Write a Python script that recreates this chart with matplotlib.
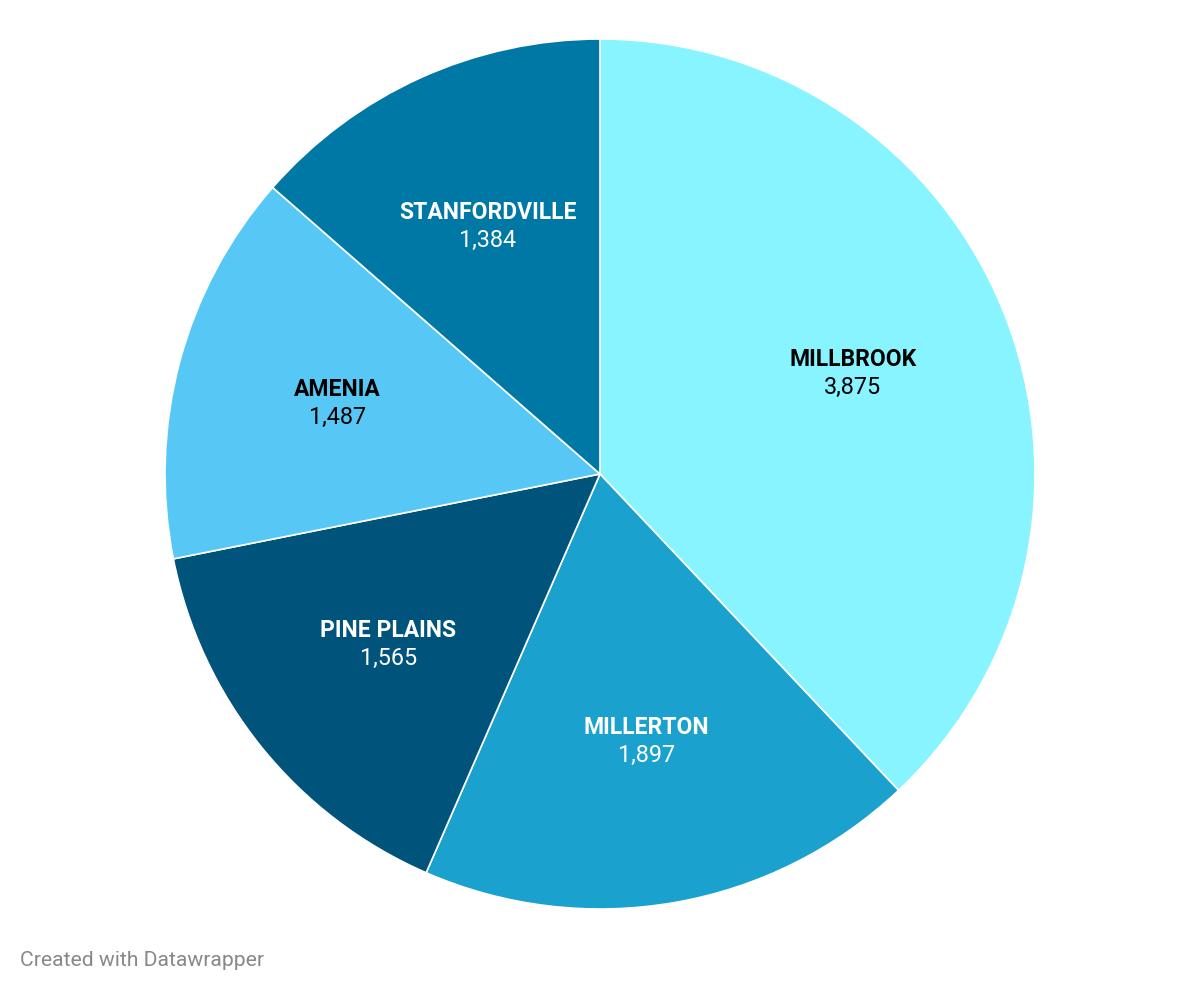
import numpy as np
import matplotlib.pyplot as plt

plt.rcParams['font.family'] = ['Roboto', 'DejaVu Sans']

names = ["MILLBROOK", "MILLERTON", "PINE PLAINS", "AMENIA", "STANFORDVILLE"]
values = [3875, 1897, 1565, 1487, 1384]
colors = ["#88f4ff", "#1ba1cd", "#00537a", "#57c8f5", "#0078a6"]
text_colors = ["#000000", "#ffffff", "#ffffff", "#000000", "#ffffff"]

W, H = 1200, 993
fig = plt.figure(figsize=(W / 100, H / 100), dpi=100)
ax = fig.add_axes([0, 0, 1, 1])

cx, cy, r = 600, H - 474, 435
wedges, _ = ax.pie(values, colors=colors, startangle=90, counterclock=False,
                   center=(cx, cy), radius=r, frame=True,
                   wedgeprops=dict(edgecolor="white", linewidth=1.2))
ax.set_xlim(0, W)
ax.set_ylim(0, H)
ax.axis("off")

for w, name, val, tc in zip(wedges, names, values, text_colors):
    ang = np.deg2rad((w.theta1 + w.theta2) / 2)
    x = cx + 0.625 * r * np.cos(ang)
    y = cy + 0.625 * r * np.sin(ang)
    ax.text(x, y + 14, name, ha="center", va="center", fontsize=16.5,
            fontweight="bold", color=tc)
    ax.text(x, y - 14, f"{val:,}", ha="center", va="center", fontsize=16.8,
            color=tc)

fig.text(20 / W, 1 - 960 / H, "Created with Datawrapper", ha="left",
         va="center", fontsize=15.2, color="#888888")

plt.savefig("out.png", dpi=100)
